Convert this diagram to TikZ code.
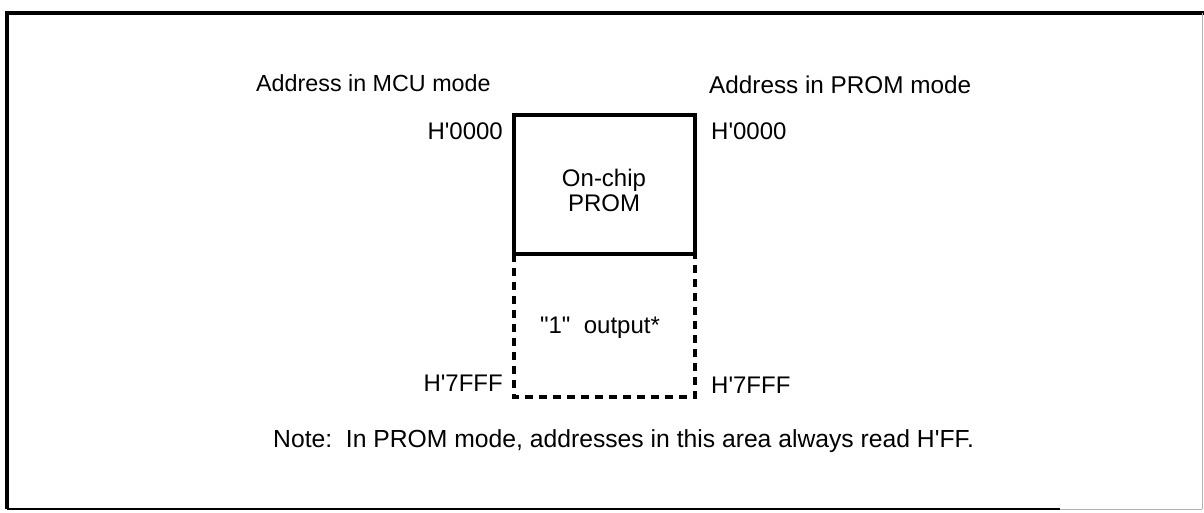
\documentclass[tikz,border=0pt]{standalone}
\usepackage{fontspec}
\setmainfont{Liberation Sans}
\begin{document}
\begin{tikzpicture}[x=1pt,y=-1pt,
  lbl/.style={inner sep=0pt,font=\fontsize{24}{25}\selectfont},
  solidline/.style={line width=3.4pt},
  dashline/.style={line width=3.1pt,dash pattern=on 8pt off 6pt}]
\useasboundingbox (0,0) rectangle (1204,512);
% outer frame
\draw[line width=3.2pt] (7,509) -- (7,13) -- (1204,13);
\draw[line width=2.4pt] (7,509) -- (1060,509);
\draw[line width=0.8pt,gray!60] (1202,13) -- (1202,509);
\draw[line width=0.8pt,gray!60] (1060,509) -- (1202,509);
% memory box
\coordinate (tl) at (514,115);
\coordinate (tr) at (695,115);
\coordinate (ml) at (514,254);
\coordinate (mr) at (695,254);
\coordinate (bl) at (514,397);
\coordinate (br) at (695,397);
\draw[solidline] (ml) -- (tl) -- (tr) -- (mr) -- cycle;
\draw[dashline] (ml) -- (bl) -- (br) -- (mr);
% labels
\node[lbl,anchor=west,font=\fontsize{23.3}{25}\selectfont] (mcu) at (256,83) {Address in MCU mode};
\node[lbl,anchor=west,font=\fontsize{24.3}{25}\selectfont] (prom) at (709,85) {Address in PROM mode};
\node[lbl,anchor=east] (a0l) at (503,131) {H\textquotesingle 0000};
\node[lbl,anchor=west] (a0r) at (711,131) {H\textquotesingle 0000};
\node[lbl,align=center] (onchip) at (604,190) {On-chip\\PROM};
\node[lbl] (out) at (600,328) {\textquotedbl 1\textquotedbl\ \ output*};
\node[lbl,anchor=east] (a7l) at (503,383) {H\textquotesingle 7FFF};
\node[lbl,anchor=west] (a7r) at (711,385) {H\textquotesingle 7FFF};
\node[lbl,anchor=west,font=\fontsize{24.7}{25}\selectfont] (note) at (273,441) {Note:\ \ In PROM mode, addresses in this area always read H\textquotesingle FF.};
\end{tikzpicture}
\end{document}
